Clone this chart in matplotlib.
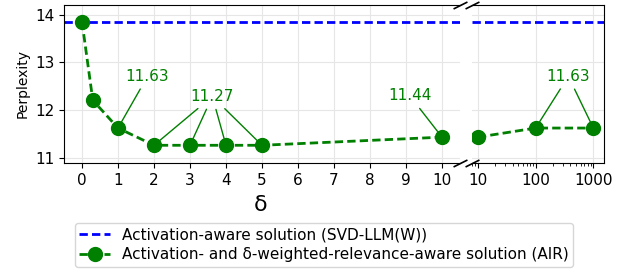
import matplotlib.pyplot as plt
import numpy as np
from matplotlib.lines import Line2D

delta_left = [0, 0.3, 1, 2, 3, 4, 5, 10]
ppl_left = [13.85, 12.21, 11.63, 11.27, 11.27, 11.27, 11.27, 11.44]
delta_right = [10, 100, 1000]
ppl_right = [11.44, 11.63, 11.63]
svd_ppl = 13.85

fig = plt.figure(figsize=(6.22, 2.72), dpi=100)
ax1 = fig.add_axes([64/622, 1-163/272, 396/622, 158/272])
ax2 = fig.add_axes([472/622, 1-163/272, 132/622, 158/272], sharey=ax1)

green = 'green'
DASH = (3, 1.5)
for ax in (ax1, ax2):
    ax.axhline(svd_ppl, color='blue', ls='--', lw=2, dashes=DASH)
    ax.grid(True, color='#e6e6e6', lw=0.8)
    ax.set_axisbelow(True)
    ax.tick_params(labelsize=11)

l1, = ax1.plot(delta_left, ppl_left, '--', color=green, marker='o', ms=10, lw=2, dashes=DASH)
ax2.plot(delta_right, ppl_right, '--', color=green, marker='o', ms=10, lw=2, dashes=DASH)
ax2.set_xscale('log')

ax1.set_xlim(-0.5, 10.5)
ax1.set_xticks(range(0, 11))
ax1.set_ylim(10.9, 14.2)
ax1.set_yticks([11, 12, 13, 14])
ax2.set_xlim(7.9, 1530)
ax2.set_xticks([10, 100, 1000])
ax2.set_xticklabels(['10', '100', '1000'])
ax2.tick_params(axis='y', left=False, labelleft=False)

ax1.spines['right'].set_visible(False)
ax2.spines['left'].set_visible(False)

ax1.set_ylabel('Perplexity', fontsize=10)
fig.text(261/622, 1-205/272, 'δ', fontsize=16, ha='center', va='center')

# break marks
d = 0.5
kw = dict(marker=[(-1, -d), (1, d)], markersize=10, linestyle='none', color='k', mec='k', mew=1.2, clip_on=False)
ax1.plot([1, 1], [0, 1], transform=ax1.transAxes, **kw)
ax2.plot([0, 0], [0, 1], transform=ax2.transAxes, **kw)

def ann(ax, text, pts, xytext):
    for i, (x, y) in enumerate(pts):
        ax.annotate(text, xy=(x, y), xytext=xytext,
                    arrowprops=dict(arrowstyle='-', color=green, lw=1),
                    color=green if i == 0 else 'none', fontsize=11, ha='center', va='center')

ann(ax1, '11.63', [(1, 11.63)], (1.82, 12.71))
ann(ax1, '11.27', [(2, 11.27), (3, 11.27), (4, 11.27), (5, 11.27)], (3.62, 12.29))
ann(ax1, '11.44', [(10, 11.44)], (9.11, 12.30))
ann(ax2, '11.63', [(100, 11.63), (1000, 11.63)], (369, 12.71))

h1 = Line2D([], [], color='blue', ls='--', lw=2, dashes=DASH)
fig.legend([h1, l1], ['Activation-aware solution (SVD-LLM(W))',
                      'Activation- and δ-weighted-relevance-aware solution (AIR)'],
           loc='center', bbox_to_anchor=(324/622, 1-245/272), fontsize=11, frameon=True,
           handlelength=2.0, borderpad=0.3, labelspacing=0.3)

fig.savefig('out.png', dpi=100)
